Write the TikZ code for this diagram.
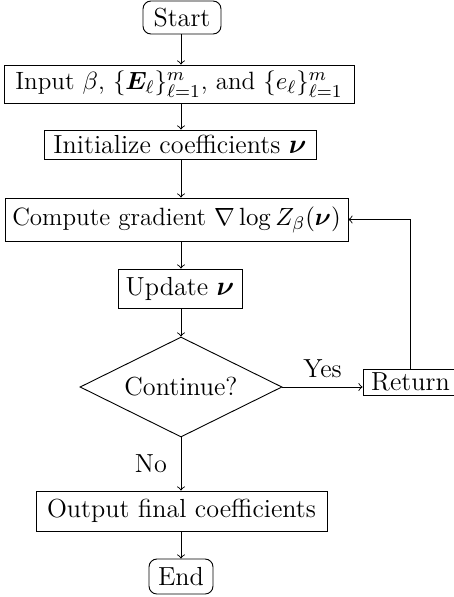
\documentclass[tikz,border=0pt]{standalone}
\usepackage{amsmath,bm}
\usetikzlibrary{shapes.geometric}
\def\pxu{0.44pt}
\begin{document}
\begin{tikzpicture}[x=0.44pt,y=-0.44pt,
  font=\fontsize{11.5}{13.8}\selectfont,
  box/.style={draw,rectangle,inner sep=0pt},
  term/.style={draw,rectangle,rounded corners=3.5pt,inner sep=0pt},
  dec/.style={draw,diamond,aspect=2,inner sep=0pt},
  flow/.style={->},
  lbl/.style={inner sep=0pt},
  longtext/.style={font=\fontsize{11}{13.2}\selectfont}]
\useasboundingbox (0,0) rectangle (453,597);
\node[term,minimum width={78*\pxu},minimum height={33*\pxu}] (start) at (182,17.5) {Start};
\node[box,longtext,minimum width={350*\pxu},minimum height={38*\pxu}] (input) at (179,84) {Input $\beta$, $\{\bm{E}_\ell\}_{\ell=1}^m$, and $\{e_\ell\}_{\ell=1}^m$};
\node[box,minimum width={272*\pxu},minimum height={29*\pxu}] (init) at (180,144.5) {Initialize coefficients $\bm{\nu}$};
\node[box,longtext,minimum width={343*\pxu},minimum height={43*\pxu}] (grad) at (176.5,219.5) {Compute gradient $\nabla\log Z_\beta(\bm{\nu})$};
\node[box,minimum width={124*\pxu},minimum height={39*\pxu}] (upd) at (180,288.5) {Update $\bm{\nu}$};
\node[dec,minimum width={202*\pxu},minimum height={100*\pxu}] (cont) at (181,387) {Continue?};
\node[box,minimum width={95*\pxu},minimum height={26*\pxu}] (ret) at (410.5,382) {Return};
\node[box,minimum width={291*\pxu},minimum height={40*\pxu}] (out) at (181.5,511) {Output final coefficients};
\node[term,minimum width={64*\pxu},minimum height={35*\pxu}] (end) at (181,576.5) {End};
\coordinate (c1) at (181,0);
\draw[flow] (start.south -| c1) -- (input.north -| c1);
\draw[flow] (input.south -| c1) -- (init.north -| c1);
\draw[flow] (init.south -| c1) -- (grad.north -| c1);
\draw[flow] (grad.south -| c1) -- (upd.north -| c1);
\draw[flow] (upd.south -| c1) -- (cont.north);
\draw[flow] (cont.east) -- node[lbl,above=4pt] (yes) {Yes} (ret.west |- cont.east);
\draw[flow] (cont.south) -- node[lbl,left=6pt] (no) {No} (out.north -| cont.south);
\draw[flow] (out.south -| c1) -- (end.north -| c1);
\draw[flow] (ret.north) |- (grad.east);
\end{tikzpicture}
\end{document}
